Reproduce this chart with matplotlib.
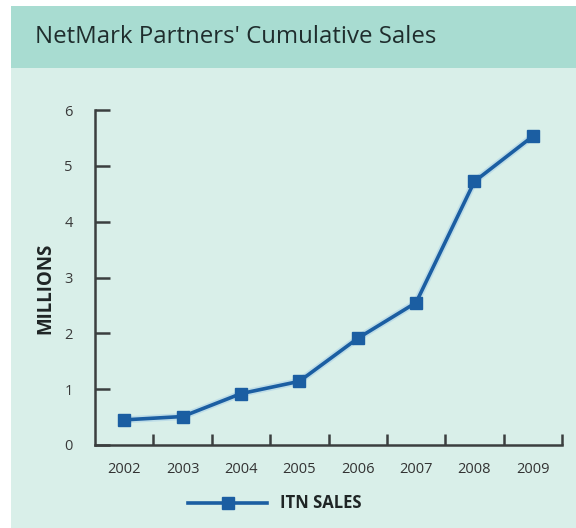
import matplotlib
matplotlib.use("Agg")
import matplotlib.pyplot as plt
from matplotlib.patches import Rectangle
from matplotlib.lines import Line2D

# ========== DATA ==========
years = ["2002", "2003", "2004", "2005", "2006", "2007", "2008", "2009"]
sales = [0.45, 0.51, 0.92, 1.14, 1.91, 2.55, 4.72, 5.53]
yticks = [0, 1, 2, 3, 4, 5, 6]

W, H = 576, 528
line_col = "#1b5ea2"
axis_col = "#3b3f3f"

fig = plt.figure(figsize=(W / 100, H / 100), dpi=100)
fig.patch.set_facecolor("white")

def fx(px):
    return px / W

def fy(py):
    return 1 - py / H

# ========== BACKGROUND PANELS ==========
fig.patches.append(Rectangle((fx(11), 0), 1 - fx(11), fy(6), transform=fig.transFigure,
                             facecolor="#d9efe9", edgecolor="none", zorder=-10))
fig.patches.append(Rectangle((fx(11), fy(68)), 1 - fx(11), fy(6) - fy(68), transform=fig.transFigure,
                             facecolor="#a8dcd1", edgecolor="none", zorder=-10))
fig.text(fx(35), fy(37), "NetMark Partners' Cumulative Sales", fontsize=17.3,
         family="Open Sans", color="#1f2d2d", va="center", ha="left")

# ========== AXES ==========
ax = fig.add_axes([fx(95), fy(445), fx(562) - fx(95), fy(110) - fy(445)])
ax.set_zorder(2)
ax.set_facecolor("none")
x = list(range(len(years)))
ax.plot(x, sales, color="#8cbde6", lw=5, alpha=0.35, solid_capstyle="round", zorder=2)
ax.plot(x, sales, color=line_col, lw=2.6, marker="s", markersize=8.5,
        markerfacecolor=line_col, markeredgecolor=line_col, zorder=3)

ax.set_xlim(-0.5, 7.5)
ax.set_ylim(0, 6)
ax.set_yticks(yticks)
ax.set_yticklabels([str(v) for v in yticks])
ax.set_xticks([i + 0.5 for i in x])
ax.set_xticklabels([])
ax.set_xticks(x, minor=True)
ax.set_xticklabels(years, minor=True)

ax.spines["top"].set_visible(False)
ax.spines["right"].set_visible(False)
for s in ("left", "bottom"):
    ax.spines[s].set_color(axis_col)
    ax.spines[s].set_linewidth(1.8)

ax.tick_params(axis="y", direction="in", length=11, width=1.8, color=axis_col,
               labelsize=10.5, labelcolor="#3a3a3a", pad=16)
ax.tick_params(axis="x", which="major", direction="in", length=8, width=1.8, color=axis_col)
ax.tick_params(axis="x", which="minor", length=0, labelsize=10.5, labelcolor="#333333", pad=12)
for lab in ax.get_yticklabels() + ax.get_xticklabels(minor=True):
    lab.set_family("Open Sans")

fig.text(fx(45), fy(288), "MILLIONS", rotation=90, fontsize=13.5, fontweight="bold",
         family="Open Sans", color="#1f2525", va="center", ha="center")

# ========== LEGEND ==========
fig.add_artist(Line2D([fx(188), fx(267)], [fy(503), fy(503)], transform=fig.transFigure,
                      color=line_col, lw=2.6))
fig.add_artist(Line2D([fx(228)], [fy(503)], transform=fig.transFigure, marker="s",
                      markersize=8.5, color=line_col, lw=0))
fig.text(fx(280), fy(503), "ITN SALES", fontsize=12, fontweight="bold", family="Open Sans",
         color="#1f2525", va="center", ha="left")

fig.savefig("out.png", dpi=100)
